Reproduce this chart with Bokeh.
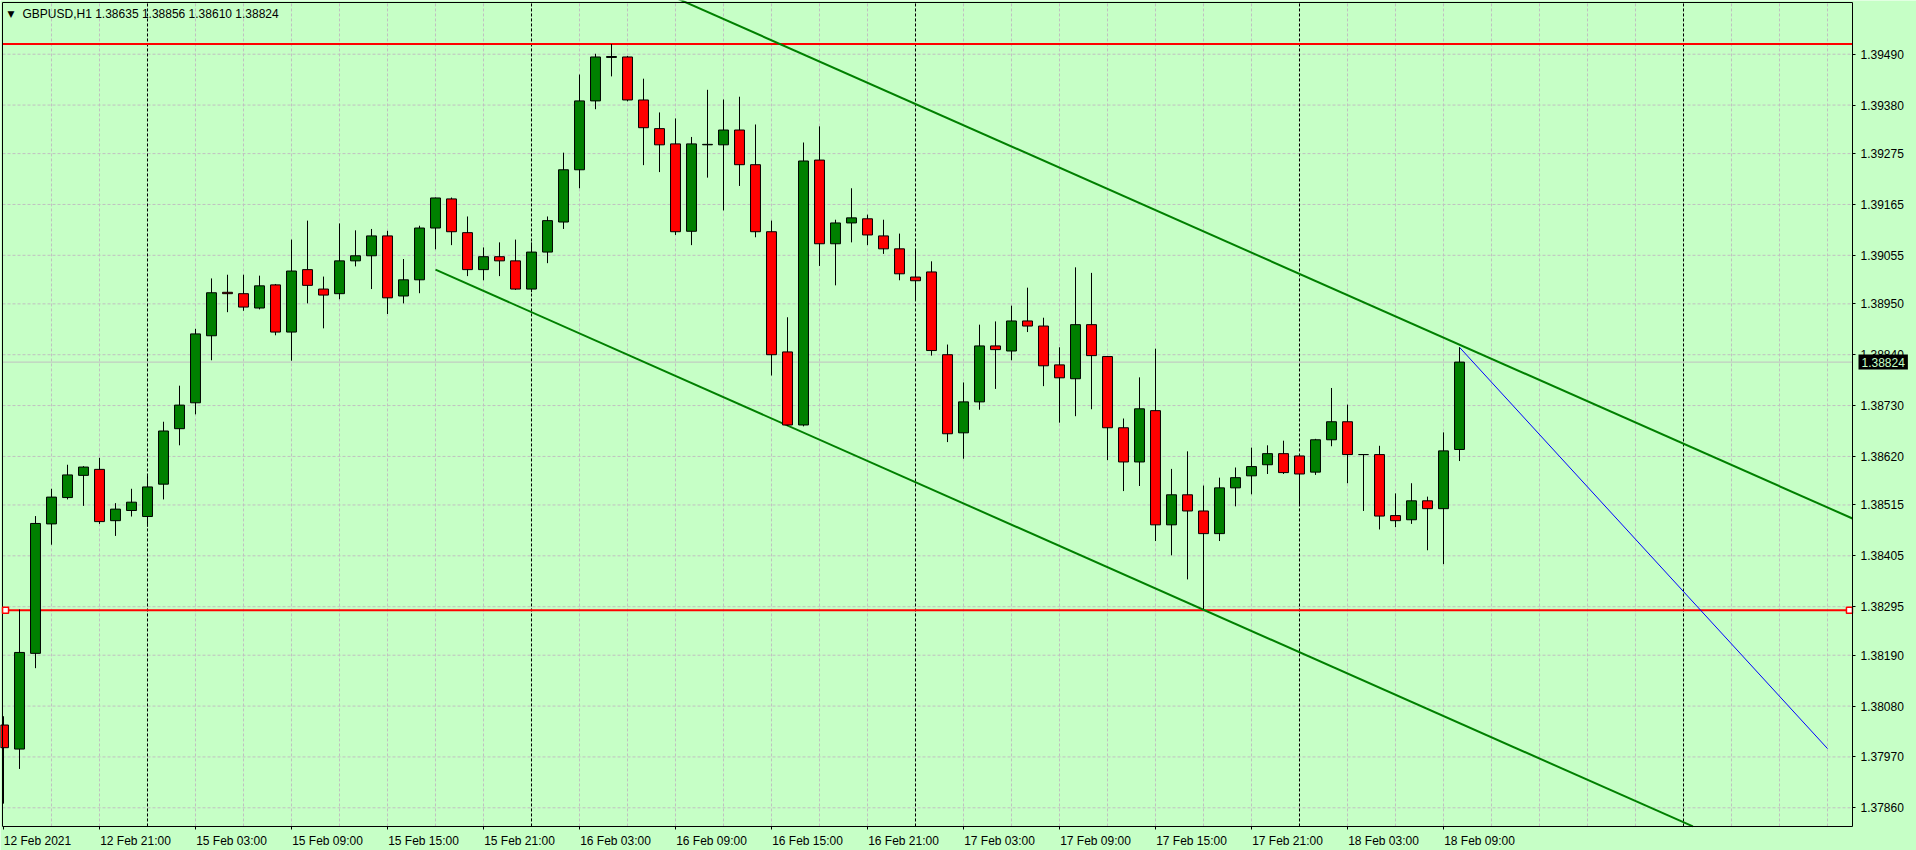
import datetime as dt
from bokeh.plotting import figure
from bokeh.models import (Range1d, FixedTicker, PrintfTickFormatter, Label, LinearAxis,
                          ColumnDataSource)
from bokeh.embed import file_html
from bokeh.resources import INLINE

# ---------------- data ----------------
symbol = "GBPUSD,H1"
first_bar = dt.datetime(2021, 2, 12, 15, 0)

opens = [1.38039, 1.37987, 1.38194, 1.38474, 1.38531, 1.38579, 1.38592, 1.38481, 1.38503, 1.38490,
         1.38560, 1.38680, 1.38736, 1.38881, 1.38975, 1.38972, 1.38941, 1.38991, 1.38889, 1.39024,
         1.38982, 1.38972, 1.39043, 1.39054, 1.39097, 1.38967, 1.39002, 1.39114, 1.39177, 1.39104,
         1.39024, 1.39052, 1.39043, 1.38982, 1.39062, 1.39127, 1.39240, 1.39389, 1.39483, 1.39484,
         1.39391, 1.39329, 1.39296, 1.39107, 1.39294, 1.39294, 1.39326, 1.39251, 1.39106, 1.38846,
         1.38688, 1.39261, 1.39080, 1.39125, 1.39134, 1.39097, 1.39069, 1.39008, 1.39019, 1.38840,
         1.38671, 1.38738, 1.38859, 1.38848, 1.38913, 1.38902, 1.38818, 1.38788, 1.38905, 1.38836,
         1.38682, 1.38608, 1.38719, 1.38472, 1.38537, 1.38502, 1.38453, 1.38552, 1.38578, 1.38602,
         1.38626, 1.38621, 1.38586, 1.38656, 1.38695, 1.38624, 1.38624, 1.38492, 1.38483, 1.38524,
         1.38507, 1.38635]
highs = [1.38058, 1.38289, 1.38491, 1.38550, 1.38602, 1.38599, 1.38617, 1.38519, 1.38550, 1.38578,
         1.38695, 1.38773, 1.38896, 1.39005, 1.39013, 1.39013, 1.39011, 1.38993, 1.39089, 1.39130,
         1.39009, 1.39124, 1.39109, 1.39112, 1.39108, 1.39047, 1.39119, 1.39180, 1.39180, 1.39139,
         1.39072, 1.39083, 1.39089, 1.39083, 1.39139, 1.39277, 1.39446, 1.39491, 1.39512, 1.39486,
         1.39437, 1.39364, 1.39351, 1.39311, 1.39413, 1.39392, 1.39398, 1.39338, 1.39130, 1.38921,
         1.39299, 1.39334, 1.39132, 1.39200, 1.39143, 1.39132, 1.39102, 1.39069, 1.39042, 1.38862,
         1.38780, 1.38905, 1.38912, 1.38946, 1.38985, 1.38920, 1.38856, 1.39029, 1.39017, 1.38837,
         1.38702, 1.38791, 1.38853, 1.38593, 1.38631, 1.38557, 1.38574, 1.38596, 1.38639, 1.38644,
         1.38654, 1.38625, 1.38658, 1.38768, 1.38732, 1.38625, 1.38643, 1.38540, 1.38562, 1.38533,
         1.38672, 1.38856]
lows = [1.37869, 1.37944, 1.38162, 1.38429, 1.38527, 1.38513, 1.38474, 1.38448, 1.38490, 1.38468,
        1.38527, 1.38644, 1.38711, 1.38828, 1.38932, 1.38935, 1.38938, 1.38882, 1.38827, 1.38951,
        1.38897, 1.38960, 1.39031, 1.38982, 1.38928, 1.38951, 1.38973, 1.39068, 1.39077, 1.39010,
        1.39001, 1.39010, 1.38980, 1.38975, 1.39038, 1.39112, 1.39200, 1.39371, 1.39442, 1.39388,
        1.39250, 1.39235, 1.39099, 1.39077, 1.39223, 1.39152, 1.39205, 1.39094, 1.38795, 1.38686,
        1.38685, 1.39032, 1.38990, 1.39083, 1.39077, 1.39058, 1.39001, 1.38959, 1.38838, 1.38651,
        1.38615, 1.38721, 1.38766, 1.38828, 1.38889, 1.38772, 1.38693, 1.38707, 1.38722, 1.38612,
        1.38545, 1.38556, 1.38437, 1.38406, 1.38354, 1.38290, 1.38437, 1.38512, 1.38538, 1.38582,
        1.38582, 1.38515, 1.38580, 1.38642, 1.38562, 1.38502, 1.38462, 1.38467, 1.38474, 1.38417,
        1.38387, 1.38610]
closes = [1.37990, 1.38196, 1.38475, 1.38532, 1.38580, 1.38597, 1.38479, 1.38506, 1.38521, 1.38554,
          1.38675, 1.38731, 1.38885, 1.38974, 1.38972, 1.38943, 1.38989, 1.38889, 1.39021, 1.38990,
          1.38969, 1.39043, 1.39054, 1.39097, 1.38963, 1.39002, 1.39114, 1.39179, 1.39106, 1.39024,
          1.39052, 1.39043, 1.38982, 1.39062, 1.39130, 1.39240, 1.39389, 1.39484, 1.39485, 1.39391,
          1.39331, 1.39294, 1.39106, 1.39296, 1.39295, 1.39326, 1.39251, 1.39106, 1.38840, 1.38688,
          1.39259, 1.39080, 1.39125, 1.39136, 1.39099, 1.39069, 1.39015, 1.39000, 1.38849, 1.38669,
          1.38738, 1.38859, 1.38851, 1.38913, 1.38902, 1.38816, 1.38790, 1.38905, 1.38838, 1.38682,
          1.38608, 1.38723, 1.38472, 1.38537, 1.38502, 1.38453, 1.38552, 1.38574, 1.38598, 1.38626,
          1.38585, 1.38582, 1.38656, 1.38695, 1.38624, 1.38624, 1.38491, 1.38481, 1.38524, 1.38507,
          1.38632, 1.38824]

price_ticks = [1.37860, 1.37970, 1.38080, 1.38190, 1.38295, 1.38405, 1.38515, 1.38620,
               1.38730, 1.38840, 1.38950, 1.39055, 1.39165, 1.39275, 1.39380, 1.39490]

# visible window of the chart (bars / prices); the canvas also holds the two scales
chart_bars = [-0.0625, 115.5625]     # left edge, price-scale edge
chart_prices = [1.378196, 1.396018]  # time-scale edge, top edge
canvas_bars = [-0.1875, 119.5625]
canvas_prices = [1.377676, 1.3960615]

hlines = [1.39512, 1.38287]
upper_channel_x = [42.0, 116.0]
upper_channel_y = [1.39612, 1.38479]
lower_channel_x = [27.0, 116.0]
lower_channel_y = [1.39024, 1.37660]
projection_x = [91.0, 114.0]
projection_y = [1.38856, 1.37988]
last_price = closes[-1]

# ---------------- styles ----------------
BG = "#c6ffc6"
BULL = "#008000"
BEAR = "#ff0000"
GRID = "#c0c0c0"
FONT = "Liberation Sans"

# ---------------- time axis ----------------
times = []
t = first_bar
while len(times) < 125:
    if t.weekday() < 5:
        times.append(t)
    t += dt.timedelta(hours=1)

n = len(closes)
idx = list(range(n))
x_left, x_edge = chart_bars
y_edge, y_top = chart_prices
separators = [i for i in range(1, int(x_edge) + 1) if times[i].hour == 0]
grid_x = list(range(3, int(x_edge) + 1, 3))
label_ticks = list(range(0, n, 6))

# MT4 writes each time label starting at its tick: the label is centred a
# little to the right of the bar it names; the tick itself is kept as a minor tick.
label_pos = []
label_text = {}
for i in label_ticks:
    if i == 0:
        pos = i + 2.125
        label_text[pos] = times[i].strftime("%d %b %Y")
    else:
        pos = i + 2.25
        label_text[pos] = times[i].strftime("%d %b %H:%M")
    label_pos.append(pos)

colors = []
for o, c in zip(opens, closes):
    colors.append(BULL if c > o else (BEAR if c < o else "black"))

src = ColumnDataSource(dict(
    x=idx, o=opens, h=highs, l=lows, c=closes,
    top=[max(o, c) for o, c in zip(opens, closes)],
    bottom=[min(o, c) for o, c in zip(opens, closes)],
    color=colors,
))


def line_y(xs, ys, x):
    return ys[0] + (ys[1] - ys[0]) * (x - xs[0]) / (xs[1] - xs[0])


def line_x(xs, ys, y):
    return xs[0] + (xs[1] - xs[0]) * (y - ys[0]) / (ys[1] - ys[0])


# ---------------- figure ----------------
p = figure(width=1916, height=850,
           x_range=Range1d(*canvas_bars), y_range=Range1d(*canvas_prices),
           x_axis_location=None, y_axis_location=None,
           output_backend="svg", toolbar_location=None,
           min_border_left=0, min_border_top=0, min_border_right=0, min_border_bottom=0)
p.background_fill_color = BG
p.border_fill_color = BG
p.outline_line_color = None
for g in list(p.grid):
    g.visible = False

# price scale on the right edge of the chart
yaxis = LinearAxis(fixed_location=x_edge, bounds=(y_edge, y_top),
                   ticker=FixedTicker(ticks=price_ticks),
                   formatter=PrintfTickFormatter(format="%.5f"))
# time scale on the bottom edge of the chart
xaxis = LinearAxis(fixed_location=y_edge, bounds=(x_left, x_edge),
                   ticker=FixedTicker(ticks=label_pos, minor_ticks=label_ticks),
                   major_label_overrides=label_text)
for ax in (xaxis, yaxis):
    ax.axis_line_color = "black"
    ax.axis_line_width = 1
    ax.major_tick_line_color = "black"
    ax.major_tick_out = 3
    ax.major_tick_in = 0
    ax.minor_tick_line_color = None
    ax.major_label_text_font = FONT
    ax.major_label_text_font_size = "12px"
    ax.major_label_text_color = "black"
yaxis.major_label_standoff = 5
xaxis.major_label_standoff = 5
xaxis.major_tick_out = 0
xaxis.minor_tick_line_color = "black"
xaxis.minor_tick_out = 3
xaxis.minor_tick_in = 0
p.add_layout(yaxis, "right")
p.add_layout(xaxis, "below")

# grid (dotted), limited to the chart window
p.segment(x0=grid_x, y0=[y_edge] * len(grid_x), x1=grid_x, y1=[y_top] * len(grid_x),
          line_color=GRID, line_dash="3 2", line_width=1)
p.segment(x0=[x_left] * len(price_ticks), y0=price_ticks,
          x1=[x_edge] * len(price_ticks), y1=price_ticks,
          line_color=GRID, line_dash="3 2", line_width=1)

# day separators
p.segment(x0=separators, y0=[y_edge] * len(separators), x1=separators,
          y1=[y_top] * len(separators), line_color="black", line_dash="3 2", line_width=1)

# current price line
p.segment(x0=[x_left], y0=[last_price], x1=[x_edge], y1=[last_price],
          line_color="#c0c0c0", line_width=1)

# horizontal levels
p.segment(x0=[x_left] * len(hlines), y0=hlines, x1=[x_edge] * len(hlines), y1=hlines,
          line_color="red", line_width=2)

# channel and projection lines, cut at the chart edges
up_end = line_y(upper_channel_x, upper_channel_y, x_edge)
p.line([upper_channel_x[0], x_edge], [upper_channel_y[0], up_end], line_color=BULL, line_width=2)
lo_end = line_x(lower_channel_x, lower_channel_y, y_edge)
p.line([lower_channel_x[0], lo_end], [lower_channel_y[0], y_edge], line_color=BULL, line_width=2)
p.line(projection_x, projection_y, line_color="blue", line_width=1)

# candles
p.segment(x0="x", y0="l", x1="x", y1="h", source=src, line_color="black", line_width=1)
p.vbar(x="x", width=0.62, top="top", bottom="bottom", source=src,
       fill_color="color", line_color="black", line_width=1)

# chart border (top and left); right and bottom are the scales' axis lines
p.segment(x0=[x_left, x_left], y0=[y_top, y_edge], x1=[x_edge, x_left], y1=[y_top, y_top],
          line_color="black", line_width=1)

# handles of the lower horizontal level
p.scatter(x=[x_left + 0.19, x_edge - 0.19], y=[hlines[1], hlines[1]],
          marker="square", size=6, fill_color="white", line_color="red", line_width=1.5)

# header
p.add_layout(Label(x=x_left, y=y_top, x_offset=5, y_offset=-6,
                   text="\u25bc", text_font="DejaVu Sans", text_font_size="9px",
                   text_baseline="top", text_color="black"))
header = f"{symbol}  {opens[-1]:.5f} {highs[-1]:.5f} {lows[-1]:.5f} {closes[-1]:.5f}"
p.add_layout(Label(x=x_left, y=y_top, x_offset=20, y_offset=-4,
                   text=header, text_font=FONT, text_font_size="12px",
                   text_baseline="top", text_color="black"))

# last price box on the price scale
p.add_layout(Label(x=x_edge, y=last_price, x_offset=6, text=f"{last_price:.5f}",
                   text_font=FONT, text_font_size="12px", text_baseline="middle",
                   text_align="left", text_color=BG, background_fill_color="black",
                   padding=3))

open("out.html", "w").write(file_html(p, INLINE))
